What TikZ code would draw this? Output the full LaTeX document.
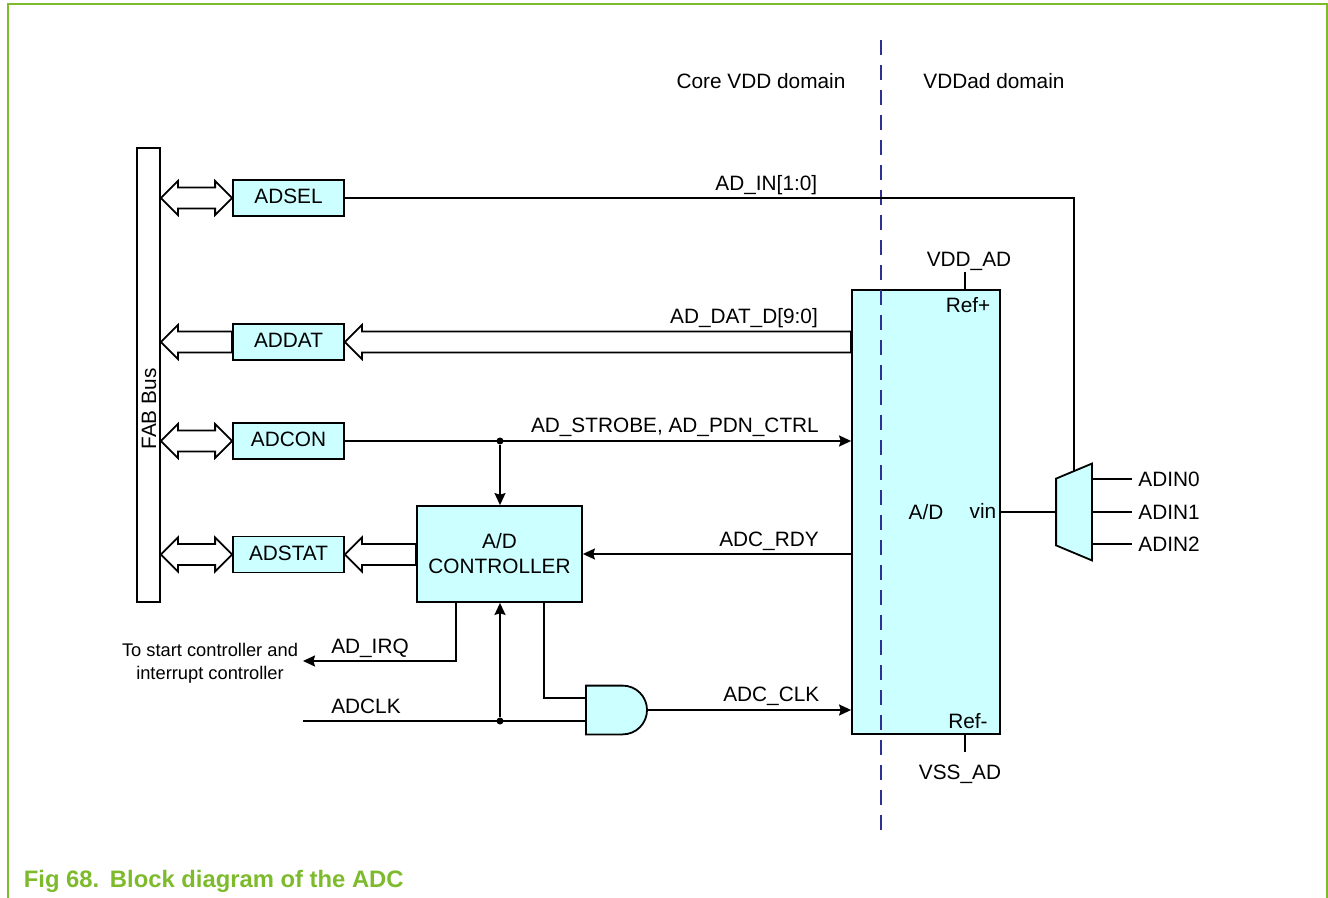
\documentclass[tikz,border=0pt]{standalone}
\usepackage{fontspec}
\setmainfont{Liberation Sans}
\usetikzlibrary{positioning,arrows.meta,shapes.geometric,shapes.gates.logic.US,calc}
\definecolor{blockcyan}{HTML}{CCFFFF}
\definecolor{nxpgreen}{HTML}{7DBB2D}
\definecolor{domainblue}{HTML}{2E3192}

\begin{document}
\begin{tikzpicture}[
    x=0.5pt, y=-0.5pt,
    % Styles
    wire/.style={line width=0.9pt, black},
    arr/.style={wire, -{Stealth[length=6pt,width=5.5pt,inset=0.8pt]}},
    regbox/.style={
        draw, line width=0.9pt, fill=blockcyan, inner sep=0pt,
        minimum width=55.5pt, minimum height=18pt,
        font=\fontsize{10.4}{12}\selectfont,
    },
    reglabel/.style={regbox, text depth=1.5pt},
    lbl/.style={font=\fontsize{10.4}{12}\selectfont, inner sep=0pt},
    pinlbl/.style={lbl, anchor=west, inner xsep=3pt},
    smalllbl/.style={font=\fontsize{9.15}{11.5}\selectfont, align=center, inner sep=0pt},
    dot/.style={circle, fill=black, inner sep=0pt, minimum size=3.5pt},
    busarrow/.style={
        line width=0.9pt, fill=white, line join=miter,
        to path={(\tikztostart) -- ++(17,-17) -- ++(0,6.5)
            -- ($(\tikztotarget)+(0,-10.5)$) -- ($(\tikztotarget)+(0,10.5)$)
            -- ($(\tikztostart)+(17,10.5)$) -- ++(0,6.5) -- cycle},
    },
    busdouble/.style={
        line width=0.9pt, fill=white, line join=miter,
        to path={(\tikztostart) -- ++(17,-17) -- ++(0,6.5)
            -- ($(\tikztotarget)+(-17,-10.5)$) -- ++(0,-6.5) -- (\tikztotarget)
            -- ++(-17,17) -- ++(0,-6.5)
            -- ($(\tikztostart)+(17,10.5)$) -- ++(0,6.5) -- cycle},
    },
]
\useasboundingbox (0,0) rectangle (1328,898);

% ================================================================
% PAGE FRAME AND CAPTION
% ================================================================
\draw[nxpgreen, line width=0.6pt] (8,898) -- (8,4) -- (1327,4) -- (1327,898);
\node[anchor=west, inner sep=0pt, text=nxpgreen, font=\fontsize{11.9}{14}\selectfont\bfseries]
    (caption) at (23.5,881) {Fig 68.\hspace{0.45em}Block diagram of the ADC};

% ================================================================
% VOLTAGE DOMAINS
% ================================================================
\coordinate (domaintop) at (881,40);
\coordinate (domainbot) at (881,832);
\node[lbl] (corelbl) at (761,81) {Core VDD domain};
\node[lbl] (vddadlbl) at (994,81) {VDDad domain};

% ================================================================
% REGISTERS AND BUS
% ================================================================
\node[draw, line width=0.9pt, minimum width=11.5pt, minimum height=227pt, inner sep=0pt]
    (fab) at (148.5,375) {};
\node[lbl, rotate=90] (fablbl) at (149,409) {FAB Bus};

\node[reglabel] (adsel) at (288.5,198) {ADSEL};
\node[reglabel] (addat) at (288.5,342) {ADDAT};
\node[reglabel] (adcon) at (288.5,441) {ADCON};
\node[reglabel] (adstat) at (288.5,554.5) {ADSTAT};

% ================================================================
% CONTROLLER, GATE, CONVERTER, MUX
% ================================================================
\node[regbox, minimum width=82.5pt, minimum height=48pt, align=center,
      font=\fontsize{10.4}{12.5}\selectfont]
    (ctrl) at (499.5,554) {A/D\\CONTROLLER};

\node[and gate US, draw, line width=0.9pt, fill=blockcyan, logic gate inputs=nn, inner sep=0pt,
      minimum width=30.5pt, minimum height=24pt]
    (andgate) at (614.5,710) {};

\node[regbox, minimum width=74pt, minimum height=222pt] (adc) at (926,512) {};
\node[lbl] (adlbl) at (926,512) {A/D};
\node[lbl] (vinlbl) at (983,511) {vin};
\node[lbl] (refplbl) at (968,305) {Ref+};
\node[lbl] (refmlbl) at (968,721) {Ref-};
\node[lbl] (vddlbl) at (969,261.5) {VDD\_AD};
\node[lbl] (vsslbl) at (960,774.5) {VSS\_AD};

\node[minimum width=17.5pt, minimum height=48pt, inner sep=0pt] (mux) at (1074,512) {};
\draw[wire, fill=blockcyan] (mux.north east) -- (mux.south east)
    -- ($(mux.south west)+(0,-15)$) -- ($(mux.north west)+(0,15)$) -- cycle;
\coordinate (muxin) at ($(mux.north)+(0,7.5)$);

\node[pinlbl] (adin0) at (1132,479) {ADIN0};
\node[pinlbl] (adin1) at (1132,512) {ADIN1};
\node[pinlbl] (adin2) at (1132,544) {ADIN2};

% ================================================================
% FREE ENDS AND JUNCTIONS
% ================================================================
\node[smalllbl] (startlbl) at (210,663) {To start controller and\\interrupt controller};
\coordinate (irqend) at (303,661);
\coordinate (irqtap) at (456,602);
\coordinate (gatetap) at (544,602);
\coordinate (clkstart) at (303,721);
\node[dot] (condot) at (500,441) {};
\node[dot] (clkdot) at (500,721) {};
\coordinate (vddstub) at (965,272);
\coordinate (vssstub) at (965,752);

% ================================================================
% ARROWS
% ================================================================

% Domain split
\draw[domainblue, line width=0.7pt, dash pattern=on 7.5pt off 5pt] (domaintop) -- (domainbot);

% Bus <-> registers
\draw[busdouble] (fab.east |- adsel.west) to (adsel.west);
\draw[busarrow] (fab.east |- addat.west) to (addat.west);
\draw[busdouble] (fab.east |- adcon.west) to (adcon.west);
\draw[busdouble] (fab.east |- adstat.west) to (adstat.west);

% ADC -> ADDAT, controller -> ADSTAT
\draw[busarrow] (addat.east) to (addat.east -| adc.west);
\draw[busarrow] (adstat.east) to (adstat.east -| ctrl.west);

% Channel select
\draw[wire] (adsel.east) -| (muxin)
    node[lbl, pos=0.289, above=1pt] (adinlbl) {AD\_IN[1:0]};

% Strobe
\draw[arr] (adcon.east |- condot) -- (condot -| adc.west)
    node[lbl, pos=0.652, above=1.5pt] (strobelbl) {AD\_STROBE, AD\_PDN\_CTRL};
\draw[arr] (condot) -- (condot |- ctrl.north);

% Data label
\node[lbl] (datlbl) at (744,318.5) {AD\_DAT\_D[9:0]};

% Ready
\draw[arr] (adc.west |- ctrl.east) -- (ctrl.east)
    node[lbl, pos=0.306, above=1pt] (rdylbl) {ADC\_RDY};

% Interrupt
\draw[arr] (irqtap) |- (irqend);
\node[lbl] (irqlbl) at (370,648) {AD\_IRQ};

% Clock
\draw[wire] (clkstart) -- (clkstart -| andgate.input 2);
\node[lbl] (clklbl) at (366,706) {ADCLK};
\draw[arr] (clkdot) -- (clkdot |- ctrl.south);
\draw[wire] (gatetap) |- ($(andgate.input 1)+(0,-4)$);
\draw[arr] (andgate.output) -- (andgate.output -| adc.west)
    node[lbl, pos=0.607, above=1.5pt] (clkoutlbl) {ADC\_CLK};

% Supplies
\draw[wire] (vddstub) -- (vddstub |- adc.north);
\draw[wire] (vssstub) -- (vssstub |- adc.south);

% Analog side
\draw[wire] (adc.east) -- (mux.west);
\draw[wire] (mux.east |- adin0.west) -- (adin0.west);
\draw[wire] (mux.east |- adin1.west) -- (adin1.west);
\draw[wire] (mux.east |- adin2.west) -- (adin2.west);

\end{tikzpicture}
\end{document}
